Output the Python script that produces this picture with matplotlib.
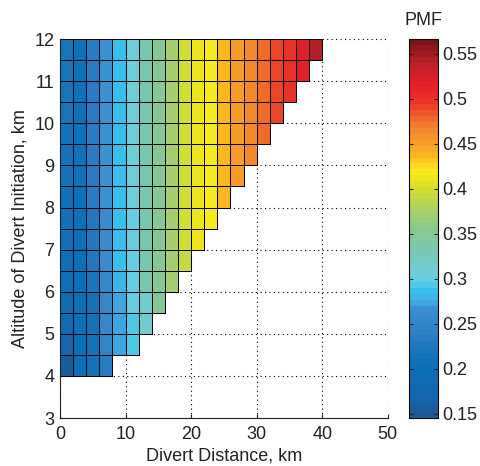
import numpy as np
import matplotlib
matplotlib.use('Agg')
import matplotlib.pyplot as plt
from matplotlib.colors import LinearSegmentedColormap

plt.rcParams['font.family'] = ['Liberation Sans', 'DejaVu Sans']
plt.rcParams['font.size'] = 13

# bin edges of the grid
divert_edges = np.arange(0, 42, 2)          # km, 0..40
altitude_edges = np.arange(4, 12.5, 0.5)    # km, 4..12

# PMF per altitude row (bottom row first), cells start at 0 km
pmf_rows = [
    [0.152, 0.200, 0.215, 0.235],
    [0.170, 0.200, 0.215, 0.245, 0.272, 0.290],
    [0.190, 0.200, 0.215, 0.255, 0.273, 0.290, 0.310],
    [0.190, 0.200, 0.215, 0.255, 0.275, 0.300, 0.315, 0.355],
    [0.200, 0.200, 0.220, 0.255, 0.282, 0.300, 0.330, 0.355, 0.370],
    [0.200, 0.200, 0.225, 0.260, 0.285, 0.300, 0.330, 0.355, 0.375, 0.390],
    [0.205, 0.202, 0.228, 0.262, 0.285, 0.302, 0.330, 0.355, 0.375, 0.395, 0.410],
    [0.208, 0.203, 0.230, 0.263, 0.285, 0.302, 0.330, 0.355, 0.375, 0.395, 0.410, 0.418],
    [0.210, 0.204, 0.232, 0.264, 0.285, 0.303, 0.330, 0.355, 0.375, 0.395, 0.410, 0.418, 0.435],
    [0.212, 0.205, 0.233, 0.265, 0.285, 0.303, 0.330, 0.355, 0.375, 0.395, 0.410, 0.419, 0.435, 0.450],
    [0.214, 0.206, 0.234, 0.265, 0.285, 0.304, 0.330, 0.355, 0.375, 0.395, 0.410, 0.419, 0.435, 0.450, 0.465],
    [0.216, 0.207, 0.235, 0.265, 0.286, 0.304, 0.330, 0.355, 0.375, 0.395, 0.410, 0.420, 0.435, 0.450, 0.465, 0.478],
    [0.218, 0.208, 0.235, 0.265, 0.286, 0.305, 0.330, 0.355, 0.375, 0.395, 0.410, 0.420, 0.435, 0.450, 0.465, 0.478, 0.490],
    [0.219, 0.209, 0.236, 0.265, 0.286, 0.305, 0.330, 0.355, 0.375, 0.395, 0.410, 0.420, 0.435, 0.450, 0.465, 0.478, 0.490, 0.500],
    [0.220, 0.210, 0.236, 0.265, 0.287, 0.305, 0.330, 0.355, 0.375, 0.395, 0.410, 0.420, 0.435, 0.450, 0.465, 0.478, 0.490, 0.500, 0.515],
    [0.220, 0.210, 0.237, 0.265, 0.287, 0.305, 0.330, 0.355, 0.375, 0.395, 0.410, 0.420, 0.435, 0.450, 0.465, 0.478, 0.490, 0.500, 0.515, 0.540],
]

vmin, vmax = 0.145, 0.566

# colour map
cmap_pts = [
    (0.145, '#1b5994'), (0.165, '#1566ad'), (0.200, '#0b70b8'), (0.215, '#1474bc'),
    (0.235, '#2a7ec4'), (0.255, '#3888cc'), (0.265, '#3a90d0'), (0.275, '#40b0e4'),
    (0.285, '#36c0ec'), (0.300, '#6ccfe0'), (0.330, '#78c8b0'), (0.355, '#88c890'),
    (0.375, '#a8d068'), (0.395, '#c8dc3c'), (0.410, '#e8e418'), (0.420, '#f8ec20'),
    (0.435, '#fcc020'), (0.450, '#f8a028'), (0.465, '#f48a2c'), (0.478, '#f06e28'),
    (0.490, '#ec4a28'), (0.500, '#ea3028'), (0.515, '#e82028'), (0.540, '#c0202a'),
    (0.550, '#a81e24'), (0.566, '#7e1418'),
]
cmap = LinearSegmentedColormap.from_list(
    'pmf', [((v - vmin) / (vmax - vmin), c) for v, c in cmap_pts], N=64)

fig = plt.figure(figsize=(4.8, 4.66), dpi=100)
ax = fig.add_axes([0.125, 0.103, 0.683, 0.813])

# one mesh per altitude row so empty cells get no edges
for i, row in enumerate(pmf_rows):
    n = len(row)
    mesh = ax.pcolormesh(divert_edges[:n + 1], altitude_edges[i:i + 2], [row],
                         cmap=cmap, vmin=vmin, vmax=vmax,
                         edgecolors='k', linewidth=0.7, zorder=2)

ax.set_xlim(0, 50)
ax.set_ylim(3, 12)
ax.set_xticks(np.arange(0, 51, 10))
ax.set_yticks(np.arange(3, 13, 1))
ax.grid(True, color='k', linestyle=(0, (1, 3)), linewidth=0.8, zorder=1)
ax.set_axisbelow(True)
for s in ['top', 'right']:
    ax.spines[s].set_visible(False)
for s in ['left', 'bottom']:
    ax.spines[s].set_color('#222222')
ax.tick_params(direction='in', length=3, colors='#222222')
ax.tick_params(axis='x', pad=6)
ax.tick_params(axis='y', pad=4)
ax.set_xlabel('Divert Distance, km', color='#222222', labelpad=3)
ax.set_ylabel('Altitude of Divert Initiation, km', color='#222222', labelpad=4)

cax = fig.add_axes([0.852, 0.103, 0.06, 0.813])
cb = fig.colorbar(mesh, cax=cax, ticks=np.arange(0.15, 0.56, 0.05))
cb.ax.set_yticklabels(['0.15', '0.2', '0.25', '0.3', '0.35', '0.4', '0.45', '0.5', '0.55'])
cb.ax.tick_params(direction='in', left=True, right=True, length=3, colors='#222222', pad=3)
cb.outline.set_edgecolor('k')
cb.ax.set_title('PMF', fontsize=13, color='#222222', pad=10)

fig.savefig('out.png', dpi=100)
